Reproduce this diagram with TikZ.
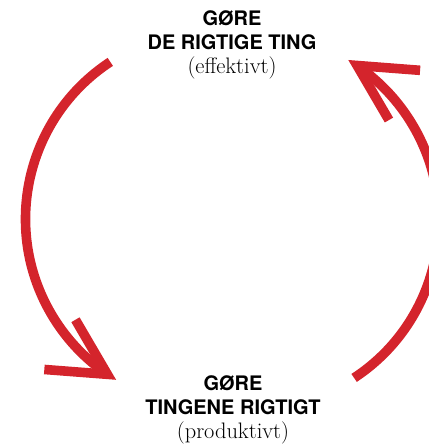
\documentclass[tikz,border=0pt]{standalone}
\usepackage{fontspec}
\newfontfamily\capsfont{TeX Gyre Heros}
\usetikzlibrary{arrows.meta,bending,calc}
\definecolor{cyclered}{RGB}{212,36,44}
\tikzset{
  headline/.style={align=center,inner sep=0pt,anchor=north,
                   font=\capsfont\bfseries\fontsize{15}{18}\selectfont},
  cyc/.style={draw=cyclered,line width=7.2pt,
              -{Straight Barb[length=42pt,width=44pt,sharp,flex]}}
}
\newcommand{\paren}[1]{{\rmfamily\mdseries\fontsize{16.8}{18}\selectfont #1}}

\begin{document}
\begin{tikzpicture}[x=0.75pt,y=0.75pt]
  \useasboundingbox (0,0) rectangle (429,444);
  % the two goals, one above and one below the cycle
  \node[headline] (top) at (232,434) {GØRE\\DE RIGTIGE TING\\\paren{(effektivt)}};
  \node[headline] (bot) at (233,69) {GØRE\\TINGENE RIGTIGT\\\paren{(produktivt)}};
  % cycle: two circle arcs, the right one is the left one turned by 180 degrees
  \coordinate (lc) at (213.5,225);
  \coordinate (rc) at (250.9,223.2);
  \coordinate (ls) at ($(lc)+(123.3:188)$);
  \coordinate (rs) at ($(rc)+(303.3:188)$);
  \draw[cyc] (ls) arc[start angle=123.3,end angle=238.8,radius=188];
  \draw[cyc] (rs) arc[start angle=303.3,end angle=418.8,radius=188];
\end{tikzpicture}
\end{document}
